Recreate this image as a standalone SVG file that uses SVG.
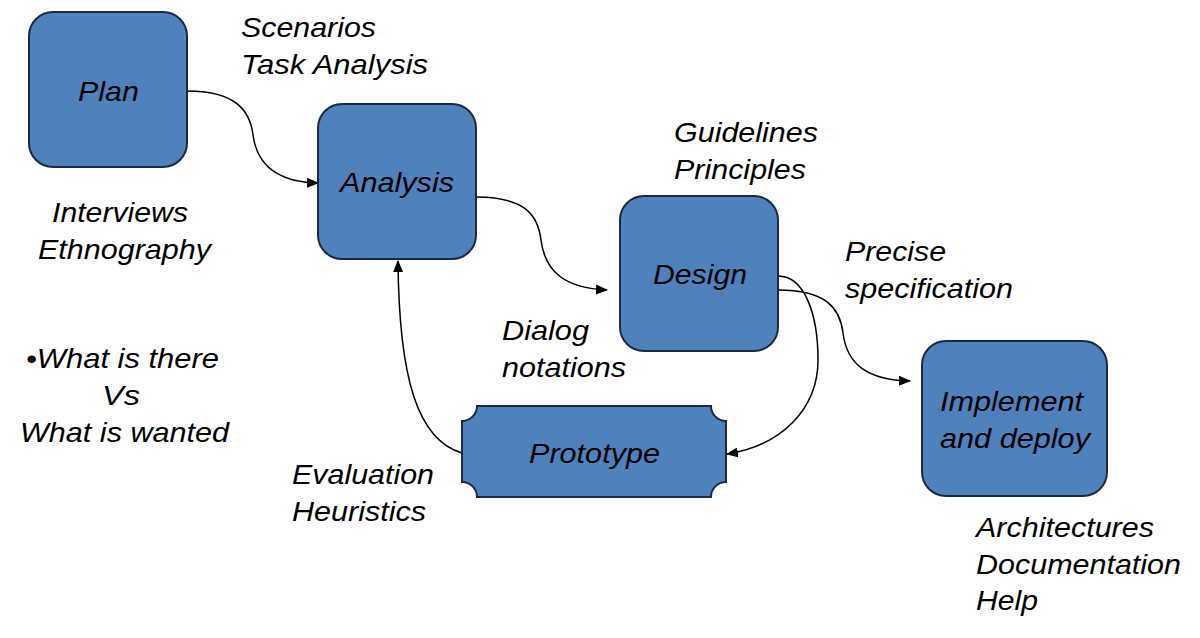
<svg xmlns="http://www.w3.org/2000/svg" width="1200" height="638" viewBox="0 0 1200 638">
<defs>
<style>
.box{fill:#4F81BD;stroke:#1c2a3e;stroke-width:2}
.t{font-family:"Liberation Sans",Arial,sans-serif;font-style:italic;font-size:28px;fill:#000}
.ln{fill:none;stroke:#000;stroke-width:1.5}
</style>
<marker id="ah" viewBox="0 0 12 10" refX="11" refY="5" markerWidth="12" markerHeight="10" markerUnits="userSpaceOnUse" orient="auto">
<path d="M0,0 L12,5 L0,10 z" fill="#000"/>
</marker>
</defs>
<rect width="1200" height="638" fill="#fff"/>
<g id="connectors">
<path class="ln" marker-end="url(#ah)" d="M187,91 C235,91 250,110 253,135 C257,165 278,182 318,183"/>
<path class="ln" marker-end="url(#ah)" d="M476,197 C525,197 538,215 541,240 C545,272 565,288 607,290"/>
<path class="ln" marker-end="url(#ah)" d="M778,290 C826,290 840,308 843,333 C847,365 868,380 910,381"/>
<path class="ln" marker-end="url(#ah)" d="M778,276 C805,276 818,315 818,360 C818,410 780,446 727,454"/>
<path class="ln" marker-end="url(#ah)" d="M462,453 C418,440 399,380 398,261"/>
</g>
<g id="plan">
<rect class="box" x="29" y="12" width="158" height="155" rx="24"/>
<text class="t" x="78" y="101" textLength="61" lengthAdjust="spacingAndGlyphs">Plan</text>
</g>
<g id="analysis">
<rect class="box" x="318" y="104" width="158" height="155" rx="24"/>
<text class="t" x="340" y="192" textLength="114" lengthAdjust="spacingAndGlyphs">Analysis</text>
</g>
<g id="design">
<rect class="box" x="620" y="196" width="158" height="155" rx="24"/>
<text class="t" x="653" y="284" textLength="94" lengthAdjust="spacingAndGlyphs">Design</text>
</g>
<g id="implement">
<rect class="box" x="922" y="341" width="185" height="155" rx="24"/>
<text class="t" x="940" y="411" textLength="143" lengthAdjust="spacingAndGlyphs">Implement</text>
<text class="t" x="940" y="448" textLength="150" lengthAdjust="spacingAndGlyphs">and deploy</text>
</g>
<g id="prototype">
<path class="box" d="M477,406 L711,406 A15,15 0 0 0 726,421 L726,482 A15,15 0 0 0 711,497 L477,497 A15,15 0 0 0 462,482 L462,421 A15,15 0 0 0 477,406 Z"/>
<text class="t" x="529" y="463" textLength="131" lengthAdjust="spacingAndGlyphs">Prototype</text>
</g>
<g id="labels">
<text class="t" x="241" y="37" textLength="135" lengthAdjust="spacingAndGlyphs">Scenarios</text>
<text class="t" x="241" y="74" textLength="187" lengthAdjust="spacingAndGlyphs">Task Analysis</text>
<text class="t" x="52" y="222" textLength="136" lengthAdjust="spacingAndGlyphs">Interviews</text>
<text class="t" x="38" y="259" textLength="173" lengthAdjust="spacingAndGlyphs">Ethnography</text>
<text class="t" x="26" y="368" textLength="193" lengthAdjust="spacingAndGlyphs">•What is there</text>
<text class="t" x="102" y="405" textLength="38" lengthAdjust="spacingAndGlyphs">Vs</text>
<text class="t" x="20" y="442" textLength="209" lengthAdjust="spacingAndGlyphs">What is wanted</text>
<text class="t" x="674" y="142" textLength="144" lengthAdjust="spacingAndGlyphs">Guidelines</text>
<text class="t" x="674" y="179" textLength="132" lengthAdjust="spacingAndGlyphs">Principles</text>
<text class="t" x="845" y="261" textLength="101" lengthAdjust="spacingAndGlyphs">Precise</text>
<text class="t" x="845" y="298" textLength="168" lengthAdjust="spacingAndGlyphs">specification</text>
<text class="t" x="502" y="340" textLength="87" lengthAdjust="spacingAndGlyphs">Dialog</text>
<text class="t" x="502" y="377" textLength="124" lengthAdjust="spacingAndGlyphs">notations</text>
<text class="t" x="292" y="484" textLength="142" lengthAdjust="spacingAndGlyphs">Evaluation</text>
<text class="t" x="292" y="521" textLength="134" lengthAdjust="spacingAndGlyphs">Heuristics</text>
<text class="t" x="976" y="537" textLength="178" lengthAdjust="spacingAndGlyphs">Architectures</text>
<text class="t" x="976" y="574" textLength="205" lengthAdjust="spacingAndGlyphs">Documentation</text>
<text class="t" x="976" y="610" textLength="62" lengthAdjust="spacingAndGlyphs">Help</text>
</g>
</svg>
